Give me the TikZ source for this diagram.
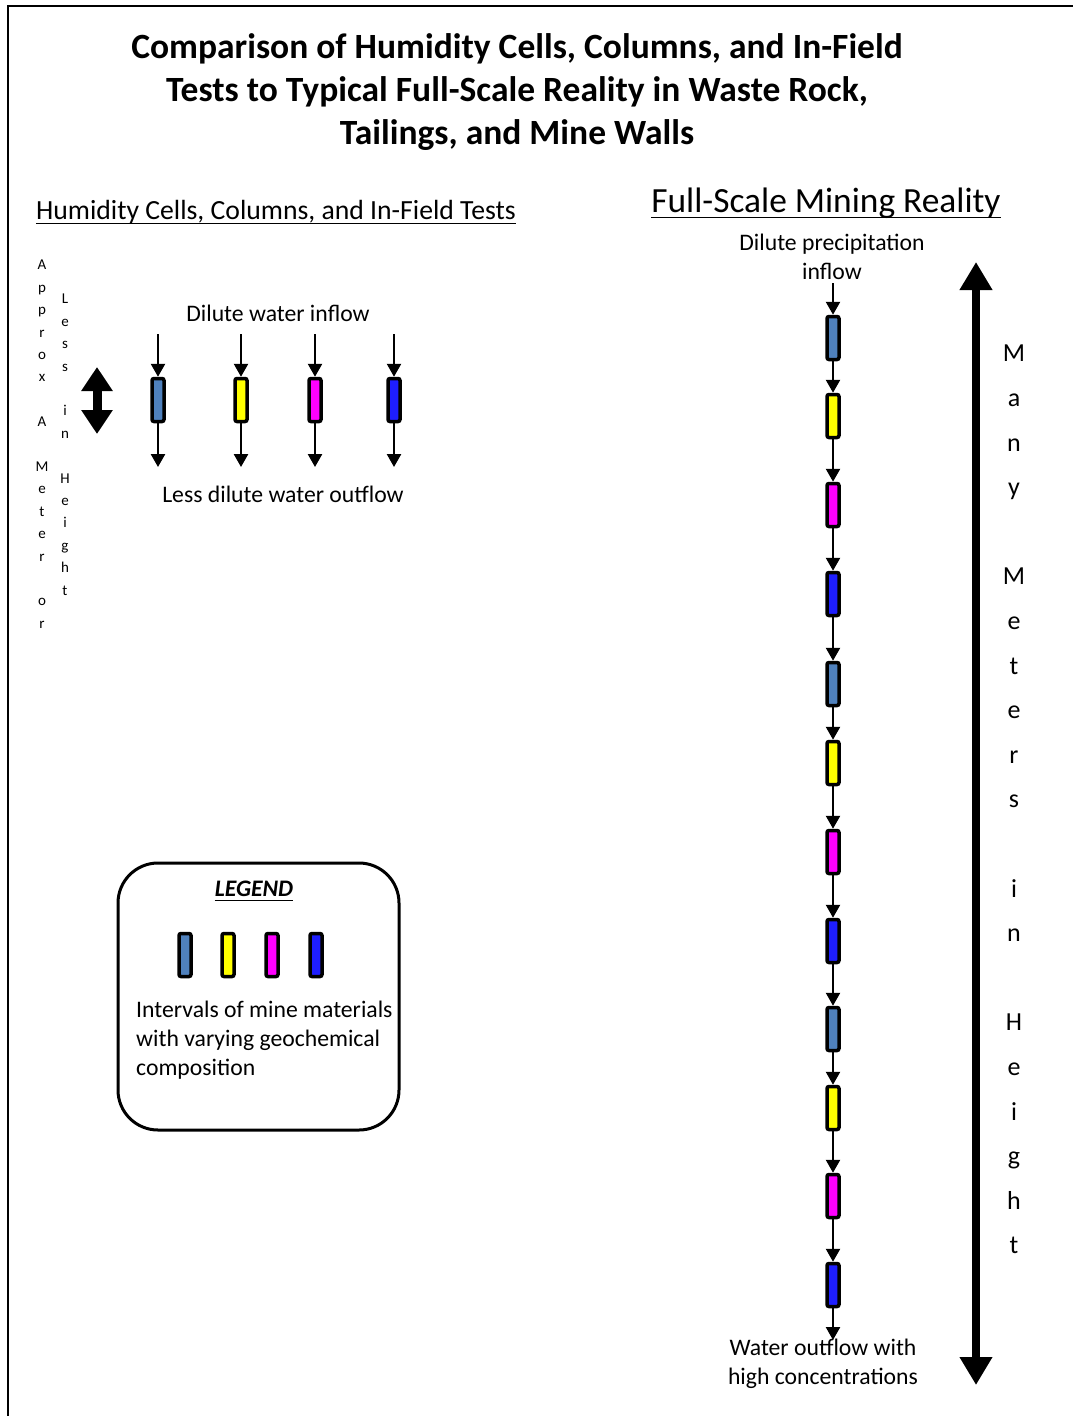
\documentclass[tikz,border=0pt]{standalone}
\usepackage{fontspec}
\setmainfont{Carlito}
\usetikzlibrary{positioning, arrows.meta}
\definecolor{cellblue}{RGB}{79,129,189}
\definecolor{cellyellow}{RGB}{255,255,0}
\definecolor{cellmagenta}{RGB}{255,0,255}
\definecolor{cellroyal}{RGB}{30,30,255}

\begin{document}
\begin{tikzpicture}[x=1pt, y=-1pt,
  every node/.style={font=\fontsize{23.7}{29}\selectfont, inner sep=0pt},
  cell/.style={draw, line width=3.5pt, rounded corners=2pt, minimum width=12pt, minimum height=43pt},
  flow/.style={line width=2.5pt, -{Triangle[width=14pt,length=13pt]}},
  letters/.style={align=center, anchor=north}]
 \useasboundingbox (0,0) rectangle (1073,1416);
 \draw[line width=1.5pt] (8,1416) -- (8,6) -- (1073,6);

 \node[font=\fontsize{35.5}{43}\selectfont\bfseries, align=center] (title) at (517,92)
   {Comparison of Humidity Cells, Columns, and In-Field\\Tests to Typical Full-Scale Reality in Waste Rock,\\Tailings, and Mine Walls};

 \node[font=\fontsize{27.7}{33}\selectfont] (lhead) at (276,212) {Humidity Cells, Columns, and In-Field Tests};
 \draw[line width=1.5pt] ([yshift=-4pt]lhead.base west) -- ([yshift=-4pt]lhead.base east);
 \node[font=\fontsize{35.4}{42}\selectfont] (rhead) at (826,203) {Full-Scale Mining Reality};
 \draw[line width=1.5pt] ([yshift=-5pt]rhead.base west) -- ([yshift=-5pt]rhead.base east);

 \node[letters, font=\fontsize{15}{22.4}\selectfont] (approx) at (42,260) {A\\p\\p\\r\\o\\x\\~\\A\\~\\M\\e\\t\\e\\r\\~\\o\\r};
 \node[letters, font=\fontsize{15}{22.4}\selectfont] (less) at (65,294) {L\\e\\s\\s\\~\\i\\n\\~\\H\\e\\i\\g\\h\\t};
 \coordinate (dtop) at (97,367);
 \coordinate (dbot) at (97,434);
 \draw[line width=9pt, {Triangle[width=30pt,length=24pt]}-{Triangle[width=30pt,length=24pt]}] (dtop) -- (dbot);

 \node (inlbl) at (278,313) {Dilute water inflow};
 \node[cell, fill=cellblue]    (t1) at (158,400) {};
 \node[cell, fill=cellyellow]  (t2) at (241,400) {};
 \node[cell, fill=cellmagenta] (t3) at (315,400) {};
 \node[cell, fill=cellroyal]   (t4) at (394,400) {};
 \coordinate (in1) at (158,334); \coordinate (out1) at (158,467);
 \coordinate (in2) at (241,334); \coordinate (out2) at (241,467);
 \coordinate (in3) at (315,334); \coordinate (out3) at (315,467);
 \coordinate (in4) at (394,334); \coordinate (out4) at (394,467);
 \draw[flow] (in1) -- (t1); \draw[flow] (t1) -- (out1);
 \draw[flow] (in2) -- (t2); \draw[flow] (t2) -- (out2);
 \draw[flow] (in3) -- (t3); \draw[flow] (t3) -- (out3);
 \draw[flow] (in4) -- (t4); \draw[flow] (t4) -- (out4);
 \node (outlbl) at (283,494) {Less dilute water outflow};

 \node[draw, line width=3pt, rounded corners=40pt, minimum width=281pt, minimum height=267pt] (legend) at (258.5,996.5) {};
 \node[font=\fontsize{23.7}{29}\selectfont\bfseries\itshape] (legtitle) at (254,889) {LEGEND};
 \draw[line width=1.5pt] ([yshift=-4pt]legtitle.base west) -- ([yshift=-4pt]legtitle.base east);
 \node[cell, fill=cellblue]    (l1) at (185,955) {};
 \node[cell, fill=cellyellow]  (l2) at (228,955) {};
 \node[cell, fill=cellmagenta] (l3) at (272,955) {};
 \node[cell, fill=cellroyal]   (l4) at (316,955) {};
 \node[align=left, anchor=west] (legtext) at (136,1040) {Intervals of mine materials\\with varying geochemical\\composition};

 \node[align=center] (precip) at (832,257) {Dilute precipitation\\inflow};
 \node[cell, fill=cellblue]    (r1)  at (833,338)  {};
 \node[cell, fill=cellyellow]  (r2)  at (833,416)  {};
 \node[cell, fill=cellmagenta] (r3)  at (833,505)  {};
 \node[cell, fill=cellroyal]   (r4)  at (833,594)  {};
 \node[cell, fill=cellblue]    (r5)  at (833,684)  {};
 \node[cell, fill=cellyellow]  (r6)  at (833,763)  {};
 \node[cell, fill=cellmagenta] (r7)  at (833,852)  {};
 \node[cell, fill=cellroyal]   (r8)  at (833,941)  {};
 \node[cell, fill=cellblue]    (r9)  at (833,1029) {};
 \node[cell, fill=cellyellow]  (r10) at (833,1108) {};
 \node[cell, fill=cellmagenta] (r11) at (833,1196) {};
 \node[cell, fill=cellroyal]   (r12) at (833,1285) {};
 \coordinate (rin) at (833,283);
 \coordinate (rout) at (833,1340);
 \draw[flow] (rin) -- (r1);  \draw[flow] (r1) -- (r2);   \draw[flow] (r2) -- (r3);   \draw[flow] (r3) -- (r4);
 \draw[flow] (r4) -- (r5);  \draw[flow] (r5) -- (r6);   \draw[flow] (r6) -- (r7);   \draw[flow] (r7) -- (r8);
 \draw[flow] (r8) -- (r9);  \draw[flow] (r9) -- (r10);  \draw[flow] (r10) -- (r11); \draw[flow] (r11) -- (r12);
 \draw[flow] (r12) -- (rout);
 \node[align=center] (conc) at (823,1364) {Water outflow with\\high concentrations};

 \coordinate (htop) at (976,262);
 \coordinate (hbot) at (976,1385);
 \draw[line width=7.5pt, {Triangle[width=31pt,length=28pt]}-{Triangle[width=31pt,length=28pt]}] (htop) -- (hbot);
 \node[letters, font=\fontsize{26}{44.6}\selectfont] (many) at (1014,345) {M\\a\\n\\y\\~\\M\\e\\t\\e\\r\\s\\~\\i\\n\\~\\H\\e\\i\\g\\h\\t};
\end{tikzpicture}
\end{document}
